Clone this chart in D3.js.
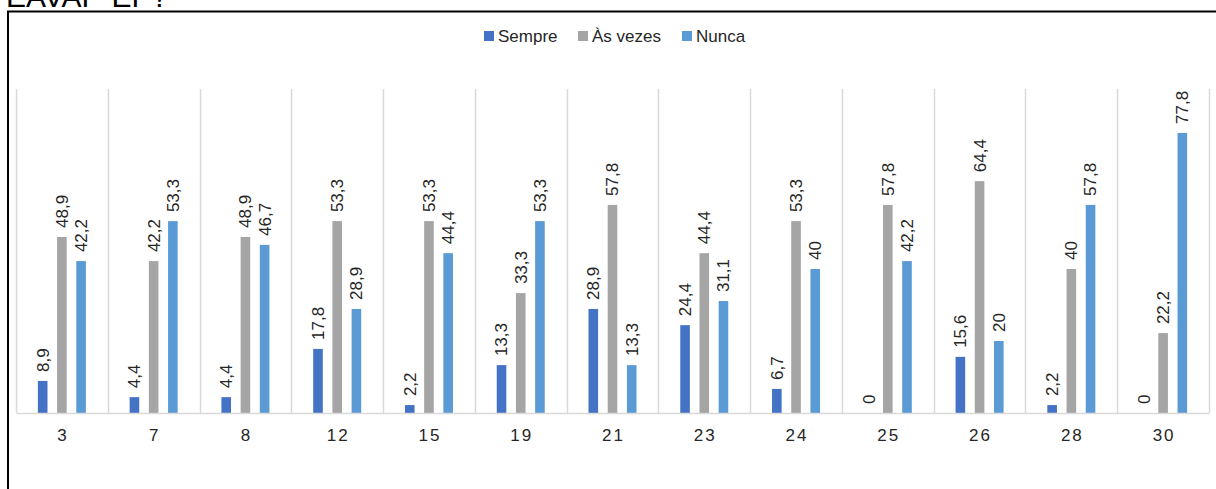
<!DOCTYPE html>
<html>
<head>
<meta charset="utf-8">
<script src="https://cdn.jsdelivr.net/npm/d3@7"></script>
<style>
  html, body { margin: 0; padding: 0; background: #fff; }
  svg { display: block; font-family: Arial, "Liberation Sans", sans-serif; }
</style>
</head>
<body>
<svg id="chart" width="1216" height="489"></svg>
<script>
const categories = ["3", "7", "8", "12", "15", "19", "21", "23", "24", "25", "26", "28", "30"];
const seriesNames = ["Sempre", "Às vezes", "Nunca"];
const sempre  = [8.9, 4.4, 4.4, 17.8, 2.2, 13.3, 28.9, 24.4, 6.7, 0, 15.6, 2.2, 0];
const asVezes = [48.9, 42.2, 48.9, 53.3, 53.3, 33.3, 57.8, 44.4, 53.3, 57.8, 64.4, 40, 22.2];
const nunca   = [42.2, 53.3, 46.7, 28.9, 44.4, 53.3, 13.3, 31.1, 40, 42.2, 20, 57.8, 77.8];
const colors  = ["#4472C4", "#A5A5A5", "#5B9BD5"];
const titleText = "EAVAP-EP?";

const seriesValues = [sempre, asVezes, nunca];
const data = categories.map((c, i) => ({
  cat: c,
  vals: seriesNames.map((s, j) => ({ key: s, value: seriesValues[j][i], color: colors[j] }))
}));

const svg = d3.select("#chart");

// title cropped at the top edge, as in the reference
svg.append("text")
  .attr("x", 6).attr("y", 7)
  .attr("font-size", 30).attr("fill", "#000")
  .text(titleText);

// frame
svg.append("rect")
  .attr("x", 8).attr("y", 11.5)
  .attr("width", 1400).attr("height", 700)
  .attr("fill", "none").attr("stroke", "#000").attr("stroke-width", 2);

const plotLeft = 16, plotRight = 1209, plotTop = 89, plotBottom = 413;

const x0 = d3.scaleBand().domain(categories).range([plotLeft, plotRight]).padding(0);
const bw = x0.bandwidth();
const x1 = d3.scaleBand().domain(seriesNames)
  .range([bw / 2 - 24, bw / 2 + 24]).paddingInner(0.5).paddingOuter(0);
const y = d3.scaleLinear().domain([0, 90]).range([plotBottom, plotTop]);

// vertical gridlines at category boundaries
const bounds = categories.map(c => x0(c)).concat([plotRight]);
svg.append("g").selectAll("line").data(bounds).join("line")
  .attr("x1", d => Math.round(d) + 0.5).attr("x2", d => Math.round(d) + 0.5)
  .attr("y1", plotTop).attr("y2", plotBottom)
  .attr("stroke", "#D9D9D9").attr("stroke-width", 1.5);

// bars
const groups = svg.append("g").selectAll("g").data(data).join("g")
  .attr("transform", d => `translate(${x0(d.cat)},0)`);

groups.selectAll("rect").data(d => d.vals).join("rect")
  .attr("x", d => x1(d.key))
  .attr("width", x1.bandwidth())
  .attr("y", d => y(d.value))
  .attr("height", d => y(0) - y(d.value))
  .attr("fill", d => d.color);

// value labels
groups.selectAll("text").data(d => d.vals).join("text")
  .attr("transform", d => `translate(${x1(d.key) + x1.bandwidth() / 2},${y(d.value) - 9}) rotate(-90)`)
  .attr("dy", "0.35em")
  .attr("text-anchor", "start")
  .attr("font-size", 17)
  .attr("fill", "#262626")
  .text(d => String(d.value).replace(".", ","));

// baseline axis
const xAxis = d3.axisBottom(x0).tickSize(0).tickPadding(16);
const ax = svg.append("g").attr("transform", `translate(0,${plotBottom})`).call(xAxis);
ax.select(".domain").attr("stroke", "#D9D9D9").attr("stroke-width", 1.5);
ax.selectAll("text")
  .attr("font-size", 17)
  .attr("font-family", "Arial, 'Liberation Sans', sans-serif")
  .attr("fill", "#262626")
  .attr("letter-spacing", 2)
  .attr("dx", 1);

// legend
const legendItems = [
  { name: seriesNames[0], color: colors[0], mx: 484, tx: 498 },
  { name: seriesNames[1], color: colors[1], mx: 578, tx: 592 },
  { name: seriesNames[2], color: colors[2], mx: 682, tx: 696 }
];
const lg = svg.append("g");
lg.selectAll("rect").data(legendItems).join("rect")
  .attr("x", d => d.mx).attr("y", 31)
  .attr("width", 10).attr("height", 10)
  .attr("fill", d => d.color);
lg.selectAll("text").data(legendItems).join("text")
  .attr("x", d => d.tx).attr("y", 36)
  .attr("dy", "0.35em")
  .attr("font-size", 17)
  .attr("fill", "#262626")
  .text(d => d.name);
</script>
</body>
</html>
